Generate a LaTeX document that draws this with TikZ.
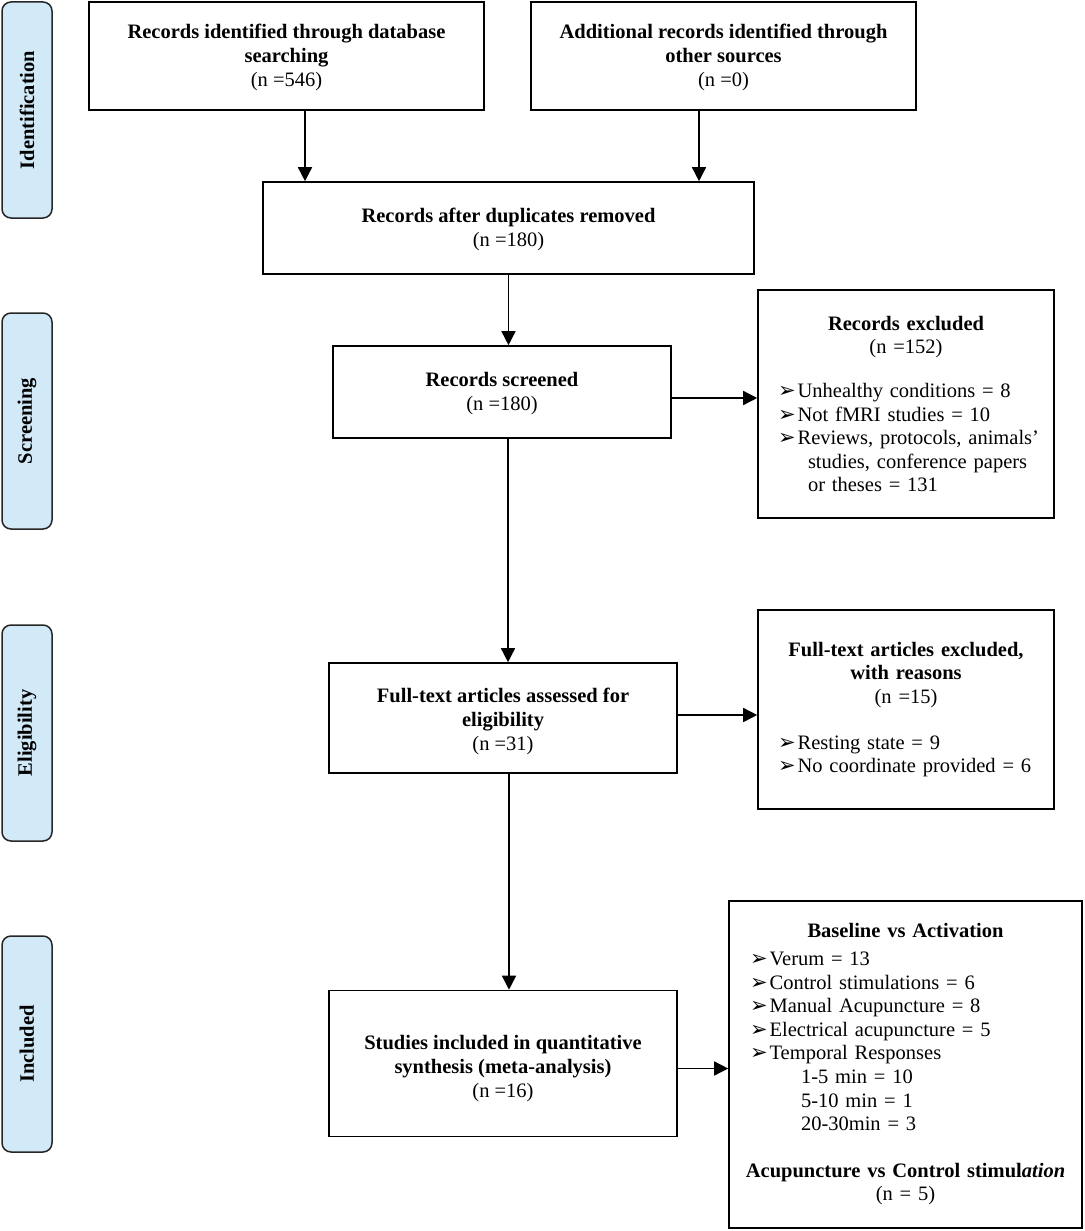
\documentclass[tikz,border=0pt]{standalone}
\usepackage{fontspec}
\setmainfont{Liberation Serif}
\newfontfamily\dejavu{DejaVu Sans}
\usetikzlibrary{arrows.meta}
\newcommand\bul{{\dejavu\fontsize{21}{21}\selectfont ➢}\hspace{2pt}}
\newcommand\lline[1]{\mbox{#1}\par}
\newcommand\dn[2]{\raisebox{-#1}[\height][\depth]{\begin{tabular}{@{}c@{}}#2\end{tabular}}}
\definecolor{phasefill}{HTML}{D2EAF8}
\begin{document}
\begin{tikzpicture}[x=1pt,y=-1pt,
  every node/.style={font=\fontsize{20.5}{24}\selectfont},
  box/.style={draw, line width=1.6pt, rectangle, inner sep=0pt, align=center},
  listbox/.style={draw, line width=1.6pt, rectangle, inner sep=0pt, font=\fontsize{20.5}{23.6}\selectfont},
  phase/.style={draw=black!85, line width=1.5pt, fill=phasefill, rounded corners=9pt, rotate=90,
    minimum width=216pt, minimum height=50pt, inner sep=0pt, font=\fontsize{20.5}{24}\selectfont\bfseries},
  arr/.style={line width=1.5pt, -{Triangle[length=14pt,width=14pt]}}]
\useasboundingbox (0,0) rectangle (1084,1231);

% phases
\node[phase] (p1) at (27,110) {Identification};
\node[phase] (p2) at (27,421) {Screening};
\node[phase] (p3) at (27,733) {Eligibility};
\node[phase] (p4) at (27,1044) {Included};

% boxes
\node[box, minimum width=395pt, minimum height=108pt] (b1) at (286.5,56)
  {\dn{2pt}{\textbf{Records identified through database}\\\textbf{searching}\\(n =546)}};
\node[box, minimum width=385pt, minimum height=108pt] (b2) at (723.5,56)
  {\dn{2pt}{\textbf{Additional records identified through}\\\textbf{other sources}\\(n =0)}};
\node[box, minimum width=491pt, minimum height=92pt] (b3) at (508.5,228)
  {\dn{2pt}{\textbf{Records after duplicates removed}\\(n =180)}};
\node[box, minimum width=338pt, minimum height=92pt] (b4) at (502,392)
  {\dn{2pt}{\textbf{Records screened}\\(n =180)}};
\node[listbox, minimum width=296pt, minimum height=228pt, text width=256pt] (b5) at (906,404)
  {\setlength{\parindent}{0pt}%
   \centerline{\bfseries Records excluded}\par
   \centerline{(n =152)}\par\vspace{20pt}
   \lline{\bul Unhealthy conditions = 8}
   \lline{\bul Not fMRI studies = 10}
   \lline{\bul Reviews, protocols, animals’}
   \lline{\hspace*{30pt}studies, conference papers}
   \lline{\hspace*{30pt}or theses = 131}};
\node[box, minimum width=348pt, minimum height=110pt] (b6) at (503,718)
  {\dn{4pt}{\textbf{Full-text articles assessed for}\\\textbf{eligibility}\\(n =31)}};
\node[listbox, minimum width=296pt, minimum height=199pt, text width=256pt] (b7) at (906,709.5)
  {\setlength{\parindent}{0pt}%
   \centerline{\bfseries Full-text articles excluded,}\par
   \centerline{\bfseries with reasons}\par
   \centerline{(n =15)}\par\vspace{22pt}
   \lline{\bul Resting state = 9}
   \lline{\bul No coordinate provided = 6}};
\node[box, minimum width=348pt, minimum height=146pt] (b8) at (503,1063.5)
  {\dn{5pt}{\textbf{Studies included in quantitative}\\\textbf{synthesis (meta-analysis)}\\(n =16)}};
\node[listbox, minimum width=353pt, minimum height=327pt, text width=311pt] (b9) at (905.5,1064.5)
  {\setlength{\parindent}{0pt}%
   \vspace*{4pt}\centerline{\bfseries Baseline vs Activation}\par
   \lline{\bul Verum = 13}
   \lline{\bul Control stimulations = 6}
   \lline{\bul Manual Acupuncture = 8}
   \lline{\bul Electrical acupuncture = 5}
   \lline{\bul Temporal Responses}
   \lline{\hspace*{51pt}1-5 min = 10}
   \lline{\hspace*{51pt}5-10 min = 1}
   \lline{\hspace*{51pt}20-30min = 3}\vspace{23pt}
   \centerline{\bfseries Acupuncture vs Control stimul\textit{ation}}\par
   \centerline{(n = 5)}\par};

% connectors
\draw[arr] ([xshift=18.5pt]b1.south) -- ([xshift=18.5pt]b1.south |- b3.north);
\draw[arr] ([xshift=-24.5pt]b2.south) -- ([xshift=-24.5pt]b2.south |- b3.north);
\draw[arr] (b3.south) -- (b3.south |- b4.north);
\draw[arr] ([xshift=6pt]b4.south) -- ([xshift=6pt]b4.south |- b6.north);
\draw[arr] ([xshift=6pt]b6.south) -- ([xshift=6pt]b6.south |- b8.north);
\draw[arr] ([yshift=-6pt]b4.east) -- ([yshift=-6pt]b4.east -| b5.west);
\draw[arr] ([yshift=3pt]b6.east) -- ([yshift=3pt]b6.east -| b7.west);
\draw[arr] ([yshift=-5pt]b8.east) -- ([yshift=-5pt]b8.east -| b9.west);
\end{tikzpicture}
\end{document}
